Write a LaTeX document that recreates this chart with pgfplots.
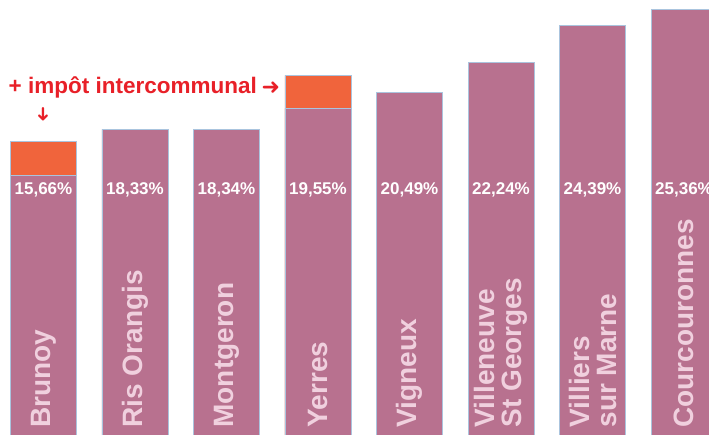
\documentclass[border=0pt]{standalone}
\usepackage{pgfplots}
\pgfplotsset{compat=1.18}
\usepackage{fontspec}
\setmainfont{Liberation Sans}
\newfontfamily\arrowfont{DejaVu Sans}
\definecolor{mauve}{RGB}{184,113,143}
\definecolor{orng}{RGB}{240,100,60}
\definecolor{bord}{RGB}{170,196,222}
\definecolor{lab}{RGB}{240,208,222}
\definecolor{red}{RGB}{232,32,40}
\begin{document}
\begin{tikzpicture}
\useasboundingbox (0,0) rectangle (709pt,435pt);
\begin{axis}[
  at={(0,0)}, anchor=south west,
  width=709pt, height=435pt, scale only axis,
  xmin=-0.475, xmax=7.273, ymin=0.47, ymax=25.89,
  axis lines=none, clip=true,
]
% orange (total = base + intercommunal)
\addplot[ybar, bar width=66pt, bar shift=0pt, fill=orng, draw=bord, line width=0.8pt]
  coordinates {(0,17.65) (3,21.48)};
% base rates
\addplot[ybar, bar width=66pt, bar shift=0pt, fill=mauve, draw=bord, line width=0.8pt]
  coordinates {(0,15.66) (1,18.33) (2,18.34) (3,19.55) (4,20.49) (5,22.24) (6,24.39) (7,25.36)};
% percentage labels
\addplot[draw=none, mark=none, nodes near coords, point meta=explicit symbolic,
  nodes near coords style={anchor=center, inner sep=0pt, text=white, font=\bfseries\fontsize{17}{17}\selectfont}]
  coordinates {(0,14.78) [15,66\%] (1,14.78) [18,33\%] (2,14.78) [18,34\%] (3,14.78) [19,55\%]
               (4,14.78) [20,49\%] (5,14.78) [22,24\%] (6,14.78) [24,39\%] (7,14.78) [25,36\%]};
% category labels
\addplot[draw=none, mark=none, nodes near coords, point meta=explicit symbolic,
  nodes near coords style={anchor=west, rotate=90, inner sep=0pt, align=left, text=lab, font=\bfseries\fontsize{28}{27}\selectfont}]
  coordinates {(0,0.9) [Brunoy] (1,0.9) [Ris Orangis] (2,0.9) [Montgeron] (3,0.9) [Yerres]
               (4,0.9) [Vigneux] (5,0.9) [{Villeneuve\\St Georges}] (6,0.9) [{Villiers\\sur Marne}] (7,0.9) [Courcouronnes]};
\node[anchor=west, inner sep=0pt, text=red, font=\bfseries\fontsize{22.5}{22.5}\selectfont] at (rel axis cs:0.012,0.798) {+ impôt intercommunal};
\node[anchor=center, inner sep=0pt, text=red, font=\arrowfont\fontsize{22}{22}\selectfont] at (rel axis cs:0.382,0.798) {➜};
\node[anchor=center, inner sep=0pt, rotate=-90, text=red, font=\arrowfont\fontsize{19}{19}\selectfont] at (rel axis cs:0.061,0.737) {➜};
\end{axis}
\end{tikzpicture}
\end{document}
